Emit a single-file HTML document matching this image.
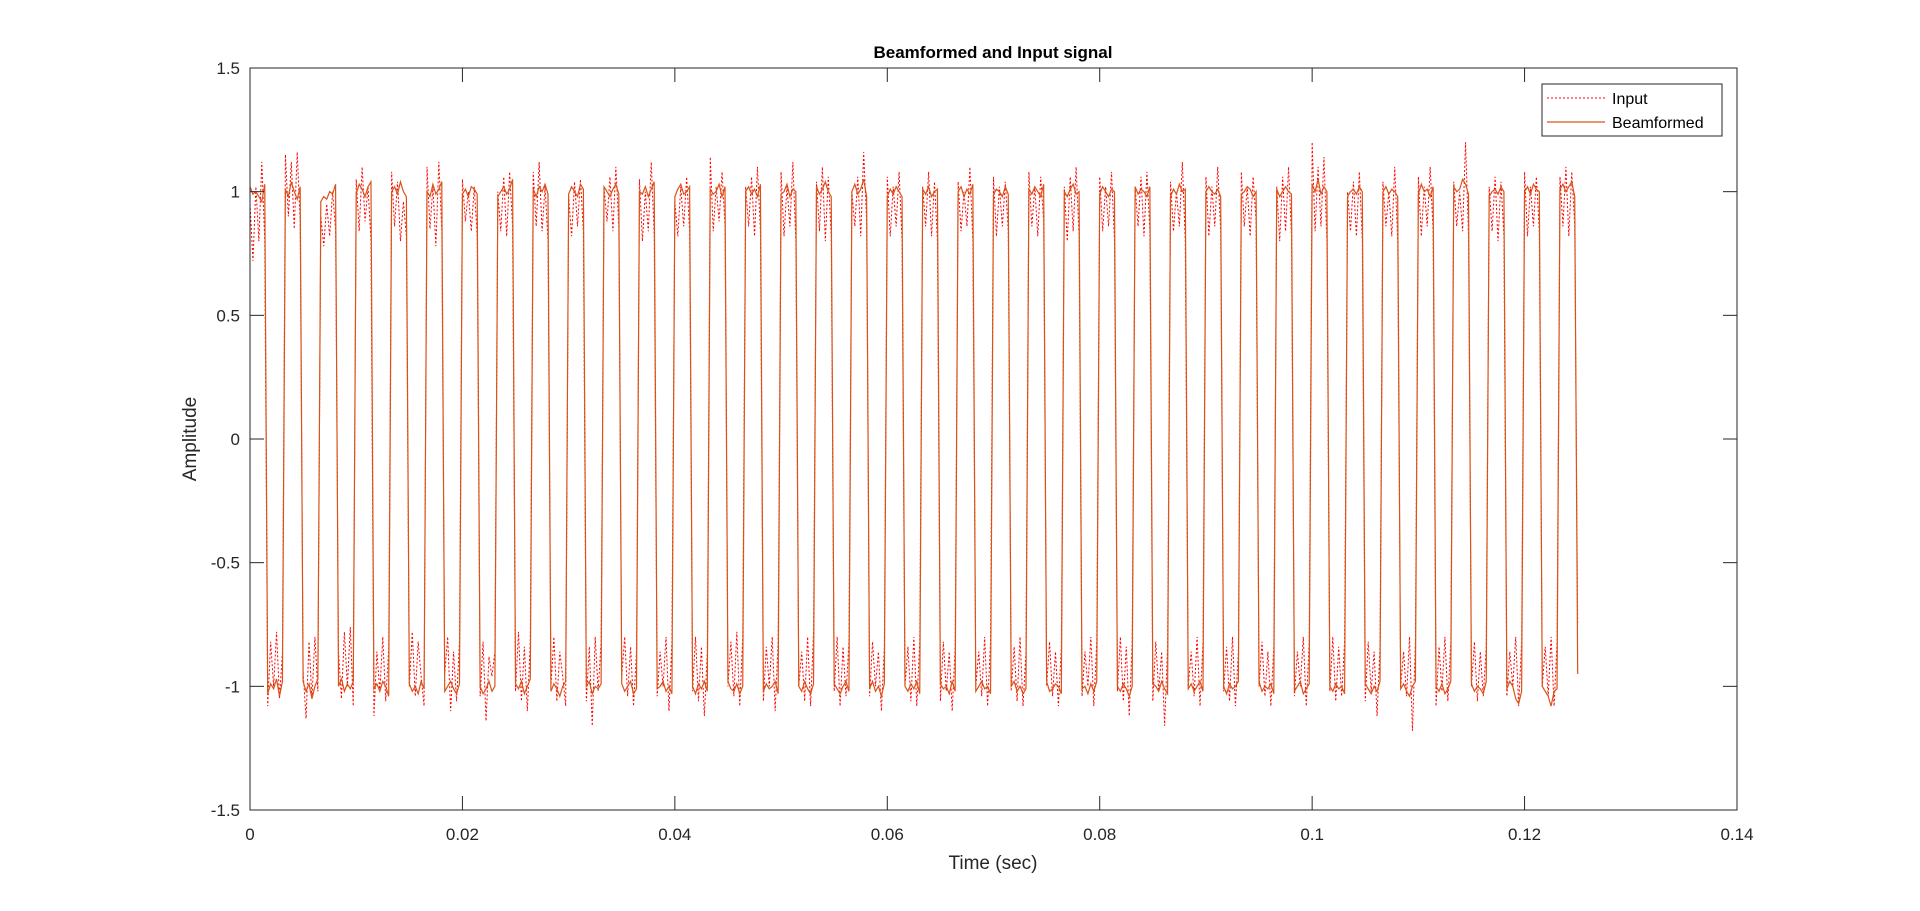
<!DOCTYPE html>
<html><head><meta charset="utf-8"><style>
body{margin:0;background:#fff;}
svg{display:block;font-family:"Liberation Sans",Arial,sans-serif;}
</style></head><body>
<svg id="chart" width="1920" height="911" viewBox="0 0 1920 911" xmlns="http://www.w3.org/2000/svg">
<rect x="0" y="0" width="1920" height="911" fill="#fff"/>
<g id="plot"></g>
<g id="axes"></g>
<text x="993" y="58" text-anchor="middle" font-size="17" font-weight="bold" fill="#000">Beamformed and Input signal</text>
<text x="993" y="869" text-anchor="middle" font-size="19" fill="#262626">Time (sec)</text>
<text transform="translate(196,439) rotate(-90)" text-anchor="middle" font-size="19" fill="#262626">Amplitude</text>
<g>
<rect x="1542" y="84" width="180" height="52" fill="#fff" stroke="#262626" stroke-width="1"/>
<line x1="1547" y1="98" x2="1605" y2="98" stroke="#ff0000" stroke-width="1" stroke-dasharray="2,2"/>
<text x="1612" y="104" font-size="16" fill="#000">Input</text>
<line x1="1547" y1="122" x2="1605" y2="122" stroke="#D95319" stroke-width="1.2"/>
<text x="1612" y="128" font-size="16" fill="#000">Beamformed</text>
</g>
</svg>
<script>
const xTicks=[0,0.02,0.04,0.06,0.08,0.1,0.12,0.14];
const xTickLabels=["0","0.02","0.04","0.06","0.08","0.1","0.12","0.14"];
const yTicks=[-1.5,-1,-0.5,0,0.5,1,1.5];
const yTickLabels=["-1.5","-1","-0.5","0","0.5","1","1.5"];
const sampleStep=0.125/450;
const beamformed=[
1.02,0.99,1.00,0.98,0.96,1.03, -1.03,-0.99,-1.01,-0.97,-1.04,-0.98,
1.01,0.98,1.04,1.00,0.97,1.02, -0.98,-1.02,-0.99,-1.05,-1.00,-0.97,
0.96,0.98,0.97,1.00,0.99,1.03, -1.00,-0.97,-1.02,-0.99,-1.01,-0.98,
0.99,1.03,1.01,0.98,1.02,1.04, -1.01,-0.99,-1.02,-0.98,-1.00,-1.04,
1.00,1.02,0.99,1.04,1.00,0.98, -0.99,-1.02,-1.00,-1.03,-0.98,-1.01,
1.00,0.98,1.03,0.99,1.01,1.04, -1.02,-1.00,-0.98,-1.01,-1.03,-0.99,
0.99,1.01,0.98,1.02,1.01,0.99, -1.00,-1.03,-1.01,-0.98,-1.02,-1.00,
0.98,1.00,1.02,0.99,1.01,1.05, -0.99,-1.01,-0.98,-1.03,-1.00,-0.97,
1.01,0.98,1.02,1.00,1.03,0.99, -1.02,-0.99,-1.01,-1.04,-1.00,-0.98,
0.99,1.02,1.00,0.98,1.03,1.01, -1.00,-0.98,-1.03,-1.00,-1.01,-0.99,
1.02,1.00,0.98,1.01,1.03,0.99, -0.99,-1.02,-1.00,-0.98,-1.03,-1.01,
1.00,0.99,1.02,0.98,1.01,1.04, -1.01,-1.00,-0.98,-1.02,-1.00,-1.03,
0.98,1.01,1.03,0.99,1.00,1.02, -1.00,-1.03,-0.99,-1.01,-0.98,-1.02,
1.01,0.99,1.00,1.03,0.98,1.02, -0.98,-1.01,-1.02,-0.99,-1.03,-1.00,
1.00,1.02,0.99,1.01,0.98,1.03, -1.02,-0.99,-1.01,-1.00,-0.98,-1.03,
0.99,1.00,1.03,0.98,1.01,1.00, -1.00,-1.02,-0.98,-1.01,-1.03,-0.99,
1.02,0.99,1.01,1.04,1.00,0.98, -0.99,-1.01,-1.03,-1.00,-0.98,-1.02,
1.00,1.03,0.99,1.01,1.05,0.98, -1.01,-0.98,-1.02,-1.00,-1.04,-0.99,
0.98,1.01,0.99,1.02,1.00,0.98, -1.00,-1.02,-0.99,-1.01,-0.98,-1.03,
1.01,0.99,1.02,0.98,1.00,1.01, -0.99,-1.01,-1.00,-1.03,-0.98,-1.02,
1.00,1.02,0.98,1.01,0.99,1.03, -1.02,-1.00,-0.98,-1.01,-1.00,-1.03,
0.99,1.01,1.00,0.98,1.02,0.99, -1.00,-0.98,-1.02,-1.00,-1.03,-1.01,
1.01,0.99,1.02,1.00,0.98,1.03, -0.98,-1.02,-1.01,-0.99,-1.00,-1.03,
1.00,0.98,1.01,1.03,0.99,1.00, -1.01,-1.00,-1.03,-0.99,-1.02,-0.98,
0.99,1.02,1.00,0.98,1.01,1.00, -1.00,-1.02,-0.99,-1.01,-1.04,-1.00,
1.02,0.99,1.01,1.00,0.98,1.02, -0.99,-1.00,-1.02,-0.98,-1.01,-1.03,
0.98,1.01,0.99,1.03,1.00,1.01, -1.01,-0.99,-1.02,-1.00,-0.98,-1.02,
1.00,1.02,1.00,0.99,1.01,0.98, -1.00,-1.03,-0.99,-1.01,-1.00,-0.98,
0.99,1.00,1.02,1.01,0.98,1.00, -0.98,-1.02,-1.00,-1.01,-0.99,-1.03,
1.01,0.98,1.00,1.02,1.00,0.99, -1.02,-1.00,-0.98,-1.03,-1.01,-0.99,
1.03,1.00,1.05,0.99,1.02,1.00, -1.00,-1.02,-0.99,-1.01,-1.00,-1.03,
0.98,1.00,1.01,0.99,1.02,1.00, -0.99,-1.01,-1.03,-1.00,-1.02,-0.98,
1.00,1.02,0.99,1.01,1.00,0.98, -1.01,-0.99,-1.02,-1.04,-1.00,-0.98,
0.99,1.03,1.00,1.01,0.98,1.02, -1.00,-1.02,-0.99,-1.03,-1.01,-0.98,
1.02,1.00,1.01,1.05,1.03,0.99, -0.99,-1.02,-1.00,-1.01,-1.03,-0.98,
0.98,1.00,1.01,0.99,1.02,1.00, -1.01,-0.98,-1.00,-1.05,-1.07,-1.02,
1.00,1.02,0.99,1.03,1.01,1.00, -1.00,-1.02,-1.04,-1.08,-1.02,-1.01,
1.01,1.03,1.00,1.02,1.04,0.98,
-0.95];
const input=[
0.95,0.72,1.02,0.80,1.12,0.80, -1.08,-0.82,-1.00,-0.78,-1.05,-0.86,
1.15,0.90,1.12,0.85,1.16,0.88, -0.94,-1.13,-0.82,-1.05,-0.80,-1.02,
0.90,0.78,0.95,0.82,1.00,0.85, -0.86,-1.05,-0.78,-1.00,-0.76,-1.08,
1.05,0.84,1.10,0.88,1.02,0.80, -1.12,-0.86,-1.02,-0.80,-1.06,-0.85,
1.08,0.86,1.04,0.80,0.96,0.82, -1.00,-0.78,-1.04,-0.82,-0.96,-1.08,
1.10,0.85,1.02,0.78,1.12,0.84, -0.95,-0.80,-1.10,-0.86,-1.06,-0.82,
1.05,0.88,1.00,0.84,1.02,0.82, -1.04,-0.82,-1.14,-0.88,-0.96,-0.86,
1.00,0.84,1.06,0.82,1.08,0.86, -1.02,-0.78,-1.06,-0.84,-1.10,-0.82,
1.08,0.86,1.12,0.84,1.02,0.80, -1.00,-0.80,-1.06,-0.86,-0.96,-1.08,
0.98,0.82,1.04,0.86,1.05,0.84, -1.06,-0.84,-1.16,-0.80,-1.02,-0.82,
1.02,0.88,1.06,0.84,1.10,0.86, -0.96,-0.80,-1.04,-0.84,-1.08,-0.86,
1.05,0.80,1.00,0.84,1.12,0.82, -1.04,-0.86,-1.00,-0.80,-1.10,-0.82,
0.96,0.82,1.02,0.86,1.06,0.84, -1.02,-0.80,-1.06,-0.84,-1.12,-0.86,
1.14,0.84,1.02,0.88,1.08,0.86, -1.00,-0.82,-1.04,-0.78,-1.08,-0.80,
1.02,0.86,1.06,0.82,1.10,0.84, -1.06,-0.84,-1.00,-0.80,-1.10,-0.82,
1.08,0.82,1.02,0.86,1.12,0.80, -1.00,-0.86,-1.06,-0.80,-1.08,-0.78,
1.04,0.84,1.10,0.80,1.06,0.82, -1.02,-0.80,-1.08,-0.84,-1.04,-0.82,
1.00,0.86,1.06,0.82,1.16,0.88, -1.04,-0.82,-1.00,-0.86,-1.10,-0.84,
1.06,0.82,1.02,0.86,1.08,0.80, -1.00,-0.84,-1.06,-0.80,-1.08,-0.82,
1.02,0.86,1.08,0.82,1.04,0.80, -1.06,-0.82,-1.02,-0.86,-1.10,-0.84,
1.04,0.84,1.00,0.86,1.10,0.80, -1.00,-0.86,-1.04,-0.80,-1.08,-0.82,
1.06,0.82,1.02,0.86,1.04,0.84, -1.02,-0.84,-1.06,-0.80,-1.08,-0.86,
1.08,0.86,1.02,0.82,1.06,0.88, -1.00,-0.82,-1.04,-0.86,-1.08,-0.84,
1.02,0.80,1.06,0.84,1.10,0.82, -1.04,-0.86,-1.00,-0.80,-1.08,-0.82,
1.06,0.84,1.02,0.86,1.08,0.80, -1.02,-0.80,-1.06,-0.84,-1.12,-0.82,
1.02,0.86,1.06,0.82,1.08,0.84, -1.06,-0.82,-1.02,-0.86,-1.16,-0.84,
1.04,0.84,1.00,0.86,1.12,0.80, -1.00,-0.86,-1.04,-0.80,-1.08,-0.82,
1.06,0.82,1.02,0.86,1.10,0.84, -1.02,-0.84,-1.06,-0.80,-1.08,-0.86,
1.08,0.86,1.02,0.82,1.06,0.88, -1.00,-0.82,-1.04,-0.86,-1.08,-0.84,
1.02,0.80,1.06,0.84,1.10,0.82, -1.04,-0.86,-1.00,-0.80,-1.08,-0.82,
1.20,0.84,1.10,0.86,1.14,0.80, -1.02,-0.80,-1.06,-0.84,-1.04,-0.82,
1.00,0.84,1.04,0.82,1.08,0.80, -1.06,-0.82,-1.02,-0.86,-1.12,-0.84,
1.04,0.86,1.00,0.82,1.10,0.80, -1.00,-0.86,-1.04,-0.80,-1.18,-0.82,
1.06,0.82,1.02,0.86,1.10,0.84, -1.08,-0.84,-1.02,-0.80,-1.06,-0.82,
1.04,0.86,1.00,0.84,1.20,0.82, -1.00,-0.82,-1.06,-0.86,-1.04,-0.84,
1.02,0.84,1.06,0.80,1.04,0.82, -1.04,-0.86,-1.00,-0.80,-1.08,-0.82,
1.08,0.82,1.02,0.86,1.06,0.84, -1.00,-0.84,-1.04,-0.80,-1.08,-0.82,
1.06,0.86,1.10,0.82,1.08,0.86,
-0.75];
const L=250,R=1737,T=68,B=810,xMin=0,xMax=0.14,yMin=-1.5,yMax=1.5;
const sx=v=>L+(v-xMin)/(xMax-xMin)*(R-L);
const sy=v=>B-(v-yMin)/(yMax-yMin)*(B-T);
const NS="http://www.w3.org/2000/svg";
const plot=document.getElementById('plot');
const axes=document.getElementById('axes');
function mk(tag,attrs,parent){const e=document.createElementNS(NS,tag);for(const k in attrs)e.setAttribute(k,attrs[k]);parent.appendChild(e);return e;}
function pathOf(arr){return arr.map((v,i)=>(i?'L':'M')+sx(i*sampleStep).toFixed(2)+','+sy(v).toFixed(2)).join('');}
const pIn=mk('path',{d:pathOf(input),fill:'none',stroke:'#ff0000','stroke-width':1,'stroke-dasharray':'2,2'},plot);


const pBf=mk('path',{d:pathOf(beamformed),fill:'none',stroke:'#D95319','stroke-width':1.2},plot);


const box=mk('rect',{x:L,y:T,width:R-L,height:B-T,fill:'none',stroke:'#262626','stroke-width':1},axes);


xTicks.forEach((v,i)=>{
  const x=sx(v);
  mk('line',{x1:x,y1:B,x2:x,y2:B-14,stroke:'#262626'},axes);
  mk('line',{x1:x,y1:T,x2:x,y2:T+14,stroke:'#262626'},axes);
  const t=mk('text',{x:x,y:B+30,'text-anchor':'middle','font-size':17,fill:'#262626'},axes);
  t.textContent=xTickLabels[i];
  
  
});
yTicks.forEach((v,i)=>{
  const y=sy(v);
  mk('line',{x1:L,y1:y,x2:L+14,y2:y,stroke:'#262626'},axes);
  mk('line',{x1:R,y1:y,x2:R-14,y2:y,stroke:'#262626'},axes);
  const t=mk('text',{x:L-10,y:y+6,'text-anchor':'end','font-size':17,fill:'#262626'},axes);
  t.textContent=yTickLabels[i];
  
  
});
</script>
</body></html>
